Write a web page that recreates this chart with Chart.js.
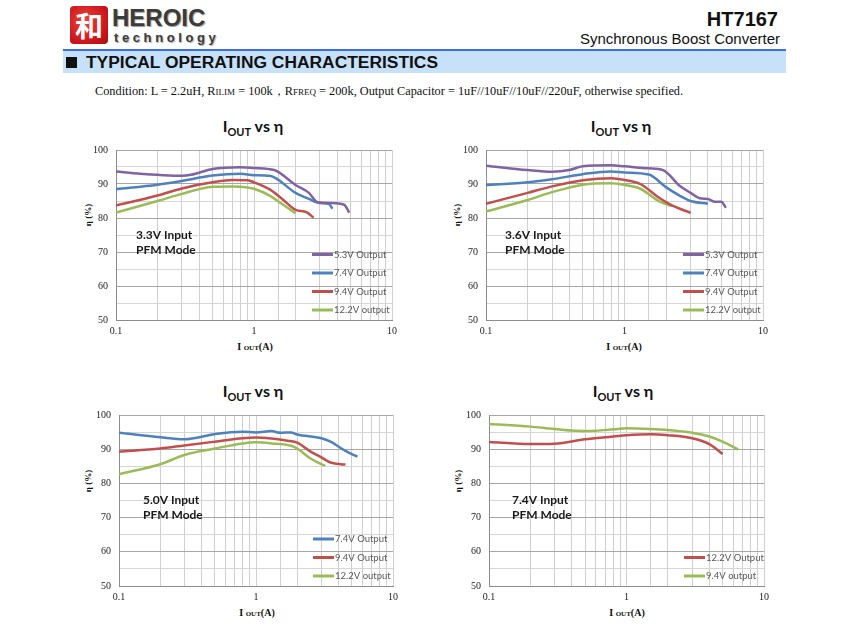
<!DOCTYPE html>
<html>
<head>
<meta charset="utf-8">
<script src="https://cdn.jsdelivr.net/npm/chart.js@4.4.0/dist/chart.umd.min.js"></script>
<style>
  body { margin: 0; background: #fff; }
  #page { position: relative; width: 850px; height: 627px; overflow: hidden; font-family: "Liberation Sans", Arial, sans-serif; }
  .abs { position: absolute; white-space: nowrap; }
  .logo { left: 70px; top: 6px; width: 38px; height: 38px; border-radius: 4px;
          background: radial-gradient(circle at 40% 40%, #f0443a, #c8141a 70%, #a50d12);
          color: #fff; font: bold 28px "Noto Sans CJK SC"; line-height: 38px; text-align: center; }
  .brand { left: 112px; top: 4px; font: bold 24px "Liberation Sans"; color: #3b3b3b; text-shadow: 1px 1px 1px #999; }
  .tech { left: 114px; top: 30px; font: bold 13px "Liberation Sans"; letter-spacing: 3.6px; color: #3b3b3b; text-shadow: 1px 1px 1px #aaa; }
  .part { right: 72px; top: 8px; font: bold 20px "Liberation Sans"; color: #111; }
  .sub { right: 70px; top: 30px; font: 15px "Liberation Sans"; color: #111; }
  .rule { left: 63px; top: 49px; width: 723px; height: 2px; background: #3d6fe3; }
  .band { left: 63px; top: 51px; width: 723px; height: 22px; background: #c7e1fb; }
  .sq { left: 66px; top: 57px; width: 11px; height: 11px; background: #111; }
  .head { left: 86px; top: 52px; font: bold 17.4px "Liberation Sans"; color: #111; }
  .cond { left: 95px; top: 83px; font: 12.3px "Liberation Serif"; color: #111; }
  .sc { font-size: 9px; }
  .ttl { font: bold 16px Lato; color: #111; transform: translateX(-50%); }
  .ttl sub { font-size: 11px; vertical-align: -4px; }
  .xl { font: bold 10px "Liberation Serif"; color: #111; transform: translateX(-50%); }
  .xl small { font-size: 7px; }
  .yl { font: bold 9px "Liberation Serif"; color: #111; transform: translate(-50%, -50%) rotate(-90deg); }
  canvas { position: absolute; }
</style>
</head>
<body>
<div id="page">
  <div class="abs logo">和</div>
  <div class="abs brand">HEROIC</div>
  <div class="abs tech">technology</div>
  <div class="abs part">HT7167</div>
  <div class="abs sub">Synchronous Boost Converter</div>
  <div class="abs rule"></div>
  <div class="abs band"></div>
  <div class="abs sq"></div>
  <div class="abs head">TYPICAL OPERATING CHARACTERISTICS</div>
  <div class="abs cond">Condition: L = 2.2uH, R<span class="sc">ILIM</span> = 100k，R<span class="sc">FREQ</span> = 200k, Output Capacitor = 1uF//10uF//10uF//220uF, otherwise specified.</div>

  <div class="abs ttl" style="left:253px; top:116px">I<sub>OUT</sub> vs η</div>
  <div class="abs ttl" style="left:621px; top:116px">I<sub>OUT</sub> vs η</div>
  <div class="abs ttl" style="left:253px; top:381px">I<sub>OUT</sub> vs η</div>
  <div class="abs ttl" style="left:623px; top:381px">I<sub>OUT</sub> vs η</div>

  <div class="abs xl" style="left:255px; top:341px">I <small>OUT</small>(A)</div>
  <div class="abs xl" style="left:624px; top:341px">I <small>OUT</small>(A)</div>
  <div class="abs xl" style="left:257px; top:607px">I <small>OUT</small>(A)</div>
  <div class="abs xl" style="left:627px; top:607px">I <small>OUT</small>(A)</div>

  <div class="abs yl" style="left:88px; top:215px">η (%)</div>
  <div class="abs yl" style="left:457px; top:215px">η (%)</div>
  <div class="abs yl" style="left:88px; top:481px">η (%)</div>
  <div class="abs yl" style="left:458px; top:481px">η (%)</div>

  <canvas id="c1"></canvas>
  <canvas id="c2"></canvas>
  <canvas id="c3"></canvas>
  <canvas id="c4"></canvas>
</div>

<script>
// axis ticks
const xLabels = [0.1, 1, 10];
const yLabels = [50, 60, 70, 80, 90, 100];

// 3.3V input
const i1_53 = [0.1, 0.15, 0.2, 0.3, 0.35, 0.5, 0.8, 1.0, 1.4, 2.0, 2.5, 2.9, 3.6, 4.5, 4.9];
const e1_53 = [93.7, 93.0, 92.7, 92.4, 92.7, 94.4, 94.9, 94.7, 94.1, 89.7, 87.4, 84.6, 84.4, 83.9, 81.6];
const i1_74 = [0.1, 0.2, 0.3, 0.5, 0.8, 1.0, 1.3, 2.0, 2.5, 3.0, 3.5, 3.7];
const e1_74 = [88.5, 89.8, 90.9, 92.5, 93.0, 92.6, 92.4, 87.4, 85.6, 84.4, 84.1, 82.7];
const i1_94 = [0.1, 0.2, 0.3, 0.5, 0.7, 0.9, 1.0, 1.3, 1.6, 2.0, 2.4, 2.7];
const e1_94 = [83.7, 86.6, 88.7, 90.5, 91.2, 91.1, 90.5, 88.4, 85.6, 82.4, 81.7, 80.1];
const i1_122 = [0.1, 0.2, 0.3, 0.5, 0.7, 0.9, 1.0, 1.3, 1.6, 2.0];
const e1_122 = [81.6, 85.0, 87.1, 89.2, 89.3, 89.0, 88.6, 86.6, 84.1, 81.4];

// 3.6V input
const i2_53 = [0.1, 0.2, 0.3, 0.4, 0.5, 0.8, 1.0, 1.5, 1.9, 2.5, 3.0, 3.5, 4.0, 4.5, 5.0, 5.4];
const e2_53 = [95.4, 94.1, 93.6, 94.1, 95.2, 95.5, 95.2, 94.6, 94.1, 89.5, 87.4, 85.8, 85.6, 84.8, 84.8, 83.0];
const i2_74 = [0.1, 0.2, 0.3, 0.5, 0.8, 1.0, 1.5, 2.0, 2.5, 3.0, 4.0];
const e2_74 = [89.7, 90.5, 91.4, 92.9, 93.7, 93.4, 92.8, 89.0, 86.6, 85.0, 84.2];
const i2_94 = [0.1, 0.2, 0.3, 0.5, 0.8, 1.0, 1.3, 1.8, 2.2, 3.0];
const e2_94 = [84.2, 87.4, 89.3, 91.1, 91.7, 91.2, 90.0, 85.8, 83.7, 81.5];
const i2_122 = [0.1, 0.2, 0.3, 0.5, 0.8, 1.0, 1.3, 1.8, 2.2];
const e2_122 = [81.9, 85.3, 87.6, 89.8, 90.2, 89.7, 88.6, 84.8, 83.5];

// 5.0V input
const i3_74 = [0.1, 0.2, 0.3, 0.5, 0.8, 1.0, 1.3, 1.5, 1.8, 2.0, 3.0, 3.5, 4.5, 5.5];
const e3_74 = [94.8, 93.5, 92.9, 94.4, 95.1, 94.9, 95.3, 94.8, 94.9, 94.3, 93.2, 92.2, 89.5, 87.8];
const i3_94 = [0.1, 0.2, 0.3, 0.5, 0.8, 1.0, 1.3, 1.7, 2.0, 2.5, 3.0, 3.5, 4.5];
const e3_94 = [89.3, 90.2, 91.1, 92.2, 93.2, 93.4, 93.1, 92.5, 91.9, 89.3, 87.6, 86.1, 85.5];
const i3_122 = [0.1, 0.2, 0.3, 0.5, 0.8, 1.0, 1.3, 1.8, 2.0, 2.5, 3.2];
const e3_122 = [82.7, 85.6, 88.3, 90.2, 91.7, 92.0, 91.7, 91.0, 90.2, 87.3, 85.1];

// 7.4V input
const i4_122 = [0.1, 0.2, 0.3, 0.5, 0.8, 1.0, 1.5, 2.0, 3.0, 4.0, 5.0];
const e4_122 = [92.1, 91.5, 91.6, 92.9, 93.7, 94.1, 94.4, 94.1, 93.2, 91.5, 88.6];
const i4_94 = [0.1, 0.2, 0.3, 0.5, 0.6, 0.8, 1.0, 1.5, 2.0, 3.0, 4.0, 5.0, 6.5];
const e4_94 = [97.4, 96.6, 95.9, 95.3, 95.4, 95.8, 96.1, 95.9, 95.6, 94.8, 93.7, 92.2, 89.9];

const purple = "#8064a2", blue = "#4f81bd", red = "#c0504d", green = "#9bbb59";

const pts = (xs, ys) => xs.map((x, i) => ({ x: x, y: ys[i] }));

const series = (label, color, xs, ys) => ({
    label: label,
    data: pts(xs, ys),
    borderColor: color,
    backgroundColor: color,
    borderWidth: 2.5,
    pointRadius: 0,
    cubicInterpolationMode: "monotone",
    fill: false
});

// note text + legend drawn inside the plot area
const overlay = {
    id: "overlay",
    afterDatasetsDraw(chart, args, opts) {
        const ctx = chart.ctx;
        const a = chart.chartArea;
        ctx.save();
        ctx.textBaseline = "middle";
        ctx.font = "bold 12px Lato";
        ctx.fillStyle = "#1a1a1a";
        opts.note.forEach((t, k) => ctx.fillText(t, a.left + opts.noteX, a.top + 85 + k * 15));

        const n = chart.data.datasets.length;
        ctx.font = "9.5px Lato";
        chart.data.datasets.forEach((ds, i) => {
            const y = a.bottom - 10 - (n - 1 - i) * 18.5;
            const x = a.right - 80;
            ctx.strokeStyle = ds.borderColor;
            ctx.lineWidth = 3;
            ctx.beginPath();
            ctx.moveTo(x, y);
            ctx.lineTo(x + 21, y);
            ctx.stroke();
            ctx.fillStyle = "#595959";
            ctx.fillText(ds.label, x + 22, y);
        });
        ctx.restore();
    }
};

const makeChart = (id, box, datasets, note, noteX) => {
    const canvas = document.getElementById(id);
    // y tick padding (8) + half label height sets the top gap
    const padL = 40, padT = 14, padR = 14, padB = 16;
    canvas.width = box.right - box.left + padL + padR;
    canvas.height = box.bottom - box.top + padT + padB;
    canvas.style.left = (box.left - padL) + "px";
    canvas.style.top = (box.top - padT) + "px";

    new Chart(canvas, {
        type: "line",
        data: { datasets: datasets },
        plugins: [overlay],
        options: {
            responsive: false,
            animation: false,
            devicePixelRatio: 1,
            layout: { padding: { top: 0, right: padR, left: 0, bottom: 0 } },
            plugins: {
                legend: { display: false },
                tooltip: { enabled: false },
                overlay: { note: note, noteX: noteX }
            },
            scales: {
                x: {
                    type: "logarithmic",
                    min: 0.1,
                    max: 10,
                    afterFit: (s) => { s.height = padB; },
                    border: { color: "#8c8c8c" },
                    grid: { color: "#cfcfcf", drawTicks: false },
                    ticks: {
                        autoSkip: false,
                        maxRotation: 0,
                        padding: 5,
                        color: "#222",
                        font: { family: "Liberation Serif", size: 10 },
                        callback: (v) => xLabels.some(t => Math.abs(t - v) < 1e-9) ? String(v) : ""
                    }
                },
                y: {
                    min: 50,
                    max: 100,
                    afterFit: (s) => { s.width = padL; },
                    border: { color: "#8c8c8c" },
                    grid: {
                        drawTicks: false,
                        color: (c) => (c.tick && c.tick.value % 10 === 0) ? "#a6a6a6" : "#d6d6d6"
                    },
                    ticks: {
                        stepSize: 5,
                        padding: 8,
                        color: "#222",
                        font: { family: "Liberation Serif", size: 10 },
                        callback: (v) => yLabels.includes(v) ? v : ""
                    }
                }
            }
        }
    });
};

makeChart("c1", { left: 116, top: 150, right: 392, bottom: 320 }, [
    series("5.3V Output", purple, i1_53, e1_53),
    series("7.4V Output", blue, i1_74, e1_74),
    series("9.4V Output", red, i1_94, e1_94),
    series("12.2V output", green, i1_122, e1_122)
], ["3.3V Input", "PFM Mode"], 20);

makeChart("c2", { left: 486, top: 150, right: 763, bottom: 320 }, [
    series("5.3V Output", purple, i2_53, e2_53),
    series("7.4V Output", blue, i2_74, e2_74),
    series("9.4V Output", red, i2_94, e2_94),
    series("12.2V output", green, i2_122, e2_122)
], ["3.6V Input", "PFM Mode"], 19);

makeChart("c3", { left: 119, top: 415, right: 393, bottom: 586 }, [
    series("7.4V Output", blue, i3_74, e3_74),
    series("9.4V Output", red, i3_94, e3_94),
    series("12.2V output", green, i3_122, e3_122)
], ["5.0V Input", "PFM Mode"], 24);

makeChart("c4", { left: 489, top: 415, right: 764, bottom: 586 }, [
    series("12.2V Output", red, i4_122, e4_122),
    series("9.4V output", green, i4_94, e4_94)
], ["7.4V Input", "PFM Mode"], 23);
</script>
</body>
</html>
